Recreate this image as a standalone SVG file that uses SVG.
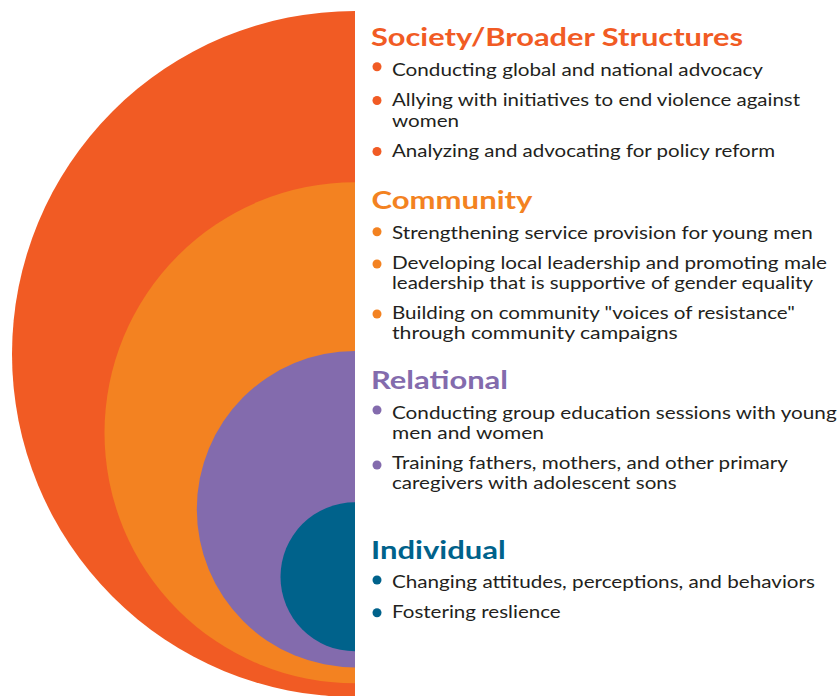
<svg xmlns="http://www.w3.org/2000/svg" width="840" height="696" viewBox="0 0 840 696">
<defs>
<clipPath id="half"><rect x="0" y="0" width="355" height="696"/></clipPath>
<style>
.t{font-family:Lato,"Open Sans","Liberation Sans",sans-serif;font-weight:700;font-size:24.5px}
.b{font-family:Lato,"Open Sans","Liberation Sans",sans-serif;font-weight:400;font-size:16.8px;fill:#231F20}
.soc{fill:#F15B24}.com{fill:#F38221}.rel{fill:#836BAD}.ind{fill:#00628B}
</style>
</defs>
<rect width="840" height="696" fill="#FFFFFF"/>
<g id="circles" clip-path="url(#half)">
<circle id="c-society" class="soc" cx="355" cy="354" r="343"/>
<circle id="c-community" class="com" cx="355" cy="432.8" r="250.5"/>
<circle id="c-relational" class="rel" cx="355" cy="509.2" r="158.2"/>
<circle id="c-individual" class="ind" cx="355" cy="576.8" r="74.5"/>
</g>
<g id="connectors"></g>
<g id="society">
<text class="t soc" x="371" y="45.5" textLength="372" lengthAdjust="spacingAndGlyphs">Society/Broader Structures</text>
<circle class="soc" cx="377" cy="66.7" r="4.5"/>
<text class="b" x="392" y="76" textLength="371" lengthAdjust="spacingAndGlyphs">Conducting global and national advocacy</text>
<circle class="soc" cx="377" cy="100.5" r="4.5"/>
<text class="b" x="392" y="106" textLength="408" lengthAdjust="spacingAndGlyphs">Allying with initiatives to end violence against</text>
<text class="b" x="392" y="126.5" textLength="67" lengthAdjust="spacingAndGlyphs">women</text>
<circle class="soc" cx="377" cy="151.5" r="4.5"/>
<text class="b" x="392" y="156.7" textLength="383" lengthAdjust="spacingAndGlyphs">Analyzing and advocating for policy reform</text>
</g>
<g id="community">
<text class="t com" x="371.5" y="209.3" textLength="161" lengthAdjust="spacingAndGlyphs">Community</text>
<circle class="com" cx="377" cy="231.7" r="4.5"/>
<text class="b" x="392" y="239" textLength="420.7" lengthAdjust="spacingAndGlyphs">Strengthening service provision for young men</text>
<circle class="com" cx="377" cy="264" r="4.5"/>
<text class="b" x="392" y="269" textLength="435" lengthAdjust="spacingAndGlyphs">Developing local leadership and promoting male</text>
<text class="b" x="392" y="289.3" textLength="421" lengthAdjust="spacingAndGlyphs">leadership that is supportive of gender equality</text>
<circle class="com" cx="377" cy="314" r="4.5"/>
<text class="b" x="392" y="319.3" textLength="403" lengthAdjust="spacingAndGlyphs">Building on community "voices of resistance"</text>
<text class="b" x="392" y="339.3" textLength="285.7" lengthAdjust="spacingAndGlyphs">through community campaigns</text>
</g>
<g id="relational">
<text class="t rel" x="371" y="389" textLength="137" lengthAdjust="spacingAndGlyphs">Relational</text>
<circle class="rel" cx="377" cy="410" r="4.5"/>
<text class="b" x="392" y="419" textLength="444.7" lengthAdjust="spacingAndGlyphs">Conducting group education sessions with young</text>
<text class="b" x="392" y="439.3" textLength="152" lengthAdjust="spacingAndGlyphs">men and women</text>
<circle class="rel" cx="377" cy="465" r="4.5"/>
<text class="b" x="392" y="469.3" textLength="396" lengthAdjust="spacingAndGlyphs">Training fathers, mothers, and other primary</text>
<text class="b" x="392" y="489.3" textLength="284.7" lengthAdjust="spacingAndGlyphs">caregivers with adolescent sons</text>
</g>
<g id="individual">
<text class="t ind" x="371" y="559" textLength="134.7" lengthAdjust="spacingAndGlyphs">Individual</text>
<circle class="ind" cx="377" cy="580" r="4.5"/>
<text class="b" x="392" y="588.3" textLength="423" lengthAdjust="spacingAndGlyphs">Changing attitudes, perceptions, and behaviors</text>
<circle class="ind" cx="377" cy="612.7" r="4.5"/>
<text class="b" x="392" y="617.7" textLength="168.7" lengthAdjust="spacingAndGlyphs">Fostering reslience</text>
</g>
</svg>
